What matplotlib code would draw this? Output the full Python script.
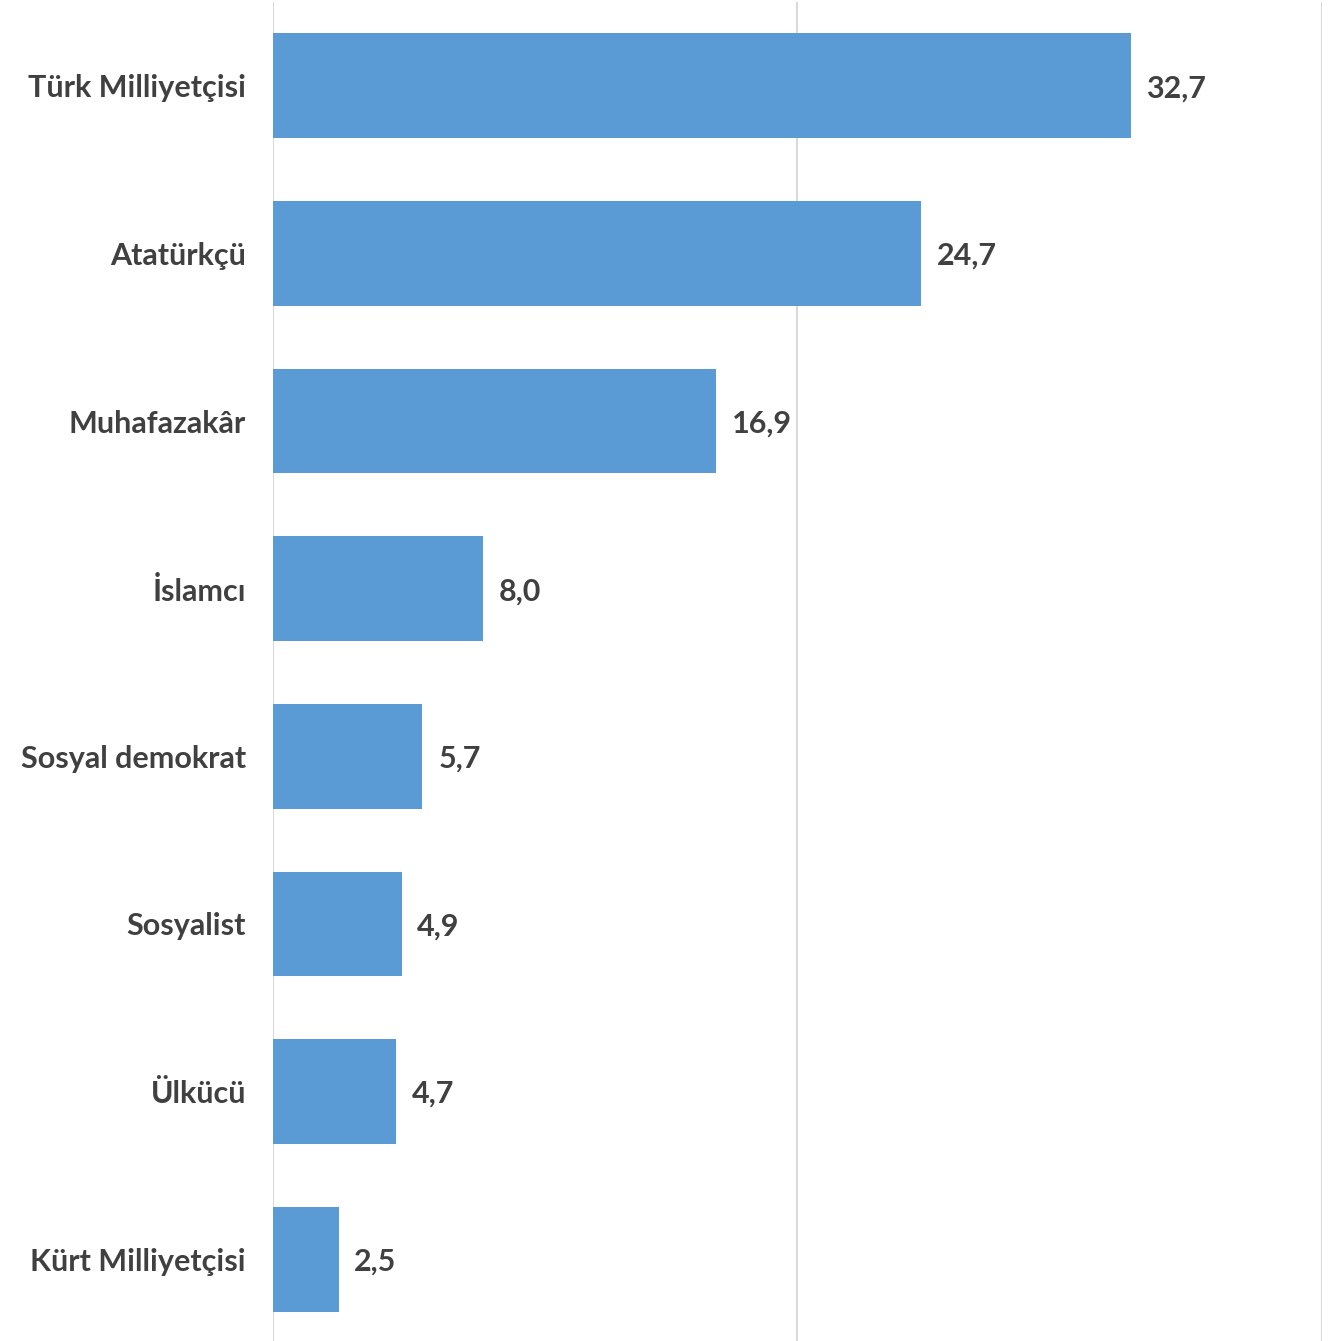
import matplotlib.pyplot as plt

categories = ["Türk Milliyetçisi", "Atatürkçü", "Muhafazakâr", "İslamcı",
              "Sosyal demokrat", "Sosyalist", "Ülkücü", "Kürt Milliyetçisi"]
values = [32.7, 24.7, 16.9, 8.0, 5.7, 4.9, 4.7, 2.5]

plt.rcParams['font.family'] = ['Lato', 'DejaVu Sans']

fig = plt.figure(figsize=(13.36, 13.41), dpi=100)
ax = fig.add_axes([273 / 1336, -2 / 1341, 1049 / 1336, 1])

pos = list(range(len(categories)))
ax.barh(pos, values, height=0.625, color='#5B9BD5')
ax.set_ylim(len(categories) - 0.5, -0.5)
ax.set_xlim(0, 40)
ax.set_xticks([0, 20, 40])
ax.xaxis.grid(True, color='#D9D9D9', linewidth=1.5)
ax.set_axisbelow(True)
ax.tick_params(axis='x', bottom=False, labelbottom=False)
ax.tick_params(axis='y', left=False, pad=16)
ax.set_yticks(pos)
ax.set_yticklabels(categories, fontsize=22, fontweight='bold', color='#404040')
for s in ax.spines.values():
    s.set_visible(False)

for p, v in zip(pos, values):
    ax.text(v + 0.6, p, f"{v:.1f}".replace('.', ','), va='center_baseline', ha='left',
            fontsize=22, fontweight='bold', color='#404040')

plt.savefig("out.png")
